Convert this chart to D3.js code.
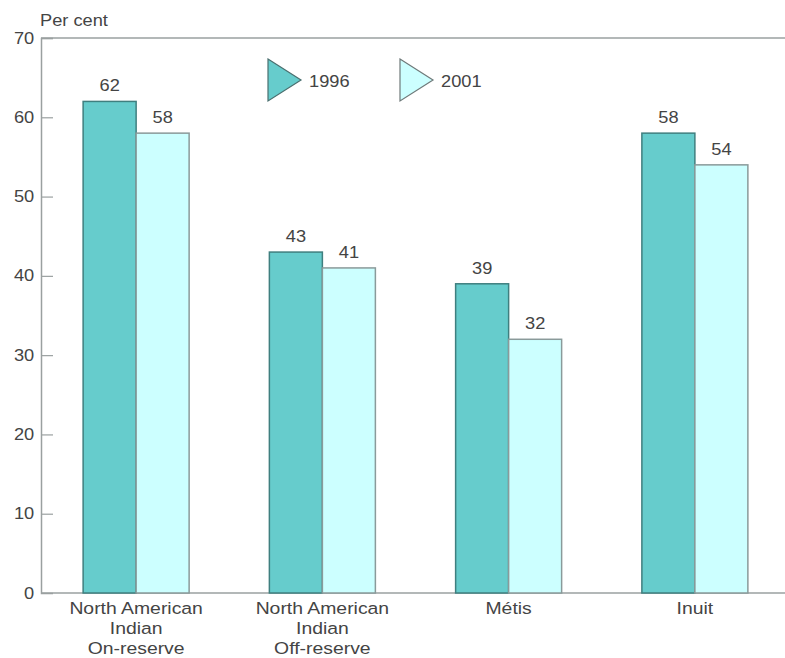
<!DOCTYPE html>
<html>
<head>
<meta charset="utf-8">
<script src="https://cdn.jsdelivr.net/npm/d3@7"></script>
<style>
  body { margin: 0; background: #fff; }
  svg { display: block; font-family: "Liberation Sans", Arial, Helvetica, sans-serif; }
</style>
</head>
<body>
<svg id="chart" width="785" height="658"></svg>
<script>
// Groups along the x axis (each label split into lines)
const categories = [
  ["North American", "Indian", "On-reserve"],
  ["North American", "Indian", "Off-reserve"],
  ["Métis"],
  ["Inuit"]
];
const seriesNames = ["1996", "2001"];
const values1996 = [62, 43, 39, 58];
const values2001 = [58, 41, 32, 54];
const yTicks = [0, 10, 20, 30, 40, 50, 60, 70];
const yTitle = "Per cent";

const svg = d3.select("#chart");
const margin = { left: 41, top: 38, bottom: 593, right: 785 };
const stretch = 1.14;          // wide lettering
const textColor = "#444";
const axisColor = "#9aa0a0";

const fills = ["#66cccc", "#ccffff"];
const strokes = ["#3f7f7f", "#8a9a9a"];
const series = [values1996, values2001];

const y = d3.scaleLinear().domain([0, 70]).range([margin.bottom, margin.top]);
const x = d3.scaleBand().domain(d3.range(categories.length)).range([43, 788]).padding(0);
const inner = d3.scaleBand().domain(d3.range(seriesNames.length)).range([0, 106]);

// place a horizontally widened text with its anchor at (px, py)
function wideText(parent, px, py, str, size, anchor) {
  return parent.append("text")
    .attr("transform", `translate(${px},${py}) scale(${stretch},1)`)
    .attr("text-anchor", anchor || "start")
    .attr("font-size", size)
    .attr("fill", textColor)
    .text(str);
}

// top frame line
svg.append("line")
  .attr("x1", margin.left).attr("x2", margin.right)
  .attr("y1", y(70)).attr("y2", y(70))
  .attr("stroke", axisColor).attr("stroke-width", 1.5);

// y axis with inward ticks
const yAxis = svg.append("g")
  .attr("transform", `translate(${margin.left},0)`)
  .call(d3.axisLeft(y).tickValues(yTicks).tickSize(-12).tickPadding(6));
yAxis.select(".domain").attr("stroke", axisColor).attr("stroke-width", 1.5);
yAxis.selectAll(".tick line").attr("stroke", axisColor).attr("stroke-width", 1.2);
yAxis.selectAll(".tick text")
  .attr("font-size", 16).attr("fill", textColor)
  .attr("font-family", "Liberation Sans, Arial, sans-serif")
  .attr("transform", `scale(${stretch},1)`);
yAxis.selectAll(".tick").filter(d => d === 0).select("line").remove();

// baseline
svg.append("line")
  .attr("x1", margin.left).attr("x2", margin.right)
  .attr("y1", y(0)).attr("y2", y(0))
  .attr("stroke", axisColor).attr("stroke-width", 1.5);

// y title
wideText(svg, 40, 26, yTitle, 16);

// bars with value labels
const groups = svg.append("g").selectAll("g")
  .data(categories.map((c, i) => i))
  .join("g")
  .attr("transform", i => `translate(${x(i) + x.bandwidth() / 2 - 53},0)`);

groups.each(function (i) {
  const g = d3.select(this);
  series.forEach((vals, s) => {
    g.append("rect")
      .attr("x", inner(s))
      .attr("y", y(vals[i]))
      .attr("width", inner.bandwidth())
      .attr("height", y(0) - y(vals[i]))
      .attr("fill", fills[s])
      .attr("stroke", strokes[s])
      .attr("stroke-width", 1.5);
    wideText(g, inner(s) + inner.bandwidth() / 2, y(vals[i]) - 10, vals[i], 16, "middle");
  });
});

// category labels
categories.forEach((lines, i) => {
  lines.forEach((ln, k) => {
    wideText(svg, x(i) + x.bandwidth() / 2, 614 + k * 20, ln, 17, "middle");
  });
});

// legend
const legendX = [268, 400];
seriesNames.forEach((name, s) => {
  const lx = legendX[s];
  svg.append("path")
    .attr("d", `M${lx},59 L${lx + 33},80 L${lx},101 Z`)
    .attr("fill", fills[s])
    .attr("stroke", s === 0 ? "#4a6f6f" : "#6f7a7a")
    .attr("stroke-width", 1.2);
  wideText(svg, lx + 41, 86.5, name, 16);
});
</script>
</body>
</html>
